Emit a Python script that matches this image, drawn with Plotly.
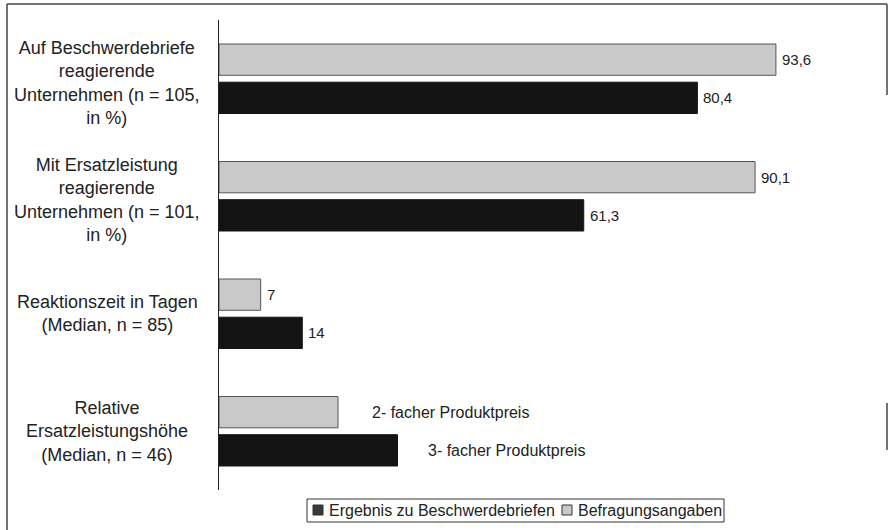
import plotly.graph_objects as go

categories = [
    "Auf Beschwerdebriefe<br>reagierende<br>Unternehmen (n = 105,<br>in %)",
    "Mit Ersatzleistung<br>reagierende<br>Unternehmen (n = 101,<br>in %)",
    "Reaktionszeit in Tagen<br>(Median, n = 85)",
    "Relative<br>Ersatzleistungshöhe<br>(Median, n = 46)",
]
befragung_values = [93.6, 90.1, 7, 20]
befragung_labels = ["93,6", "90,1", "7", "2- facher Produktpreis"]
ergebnis_values = [80.4, 61.3, 14, 30]
ergebnis_labels = ["80,4", "61,3", "14", "3- facher Produktpreis"]
legend_names = ["Ergebnis zu Beschwerdebriefen", "Befragungsangaben"]

FONT = "Liberation Sans, Arial, sans-serif"
GRAY = "#c9c9c9"
BLACK = "#141414"
cat_ids = ["c1", "c2", "c3", "c4"]

fig = go.Figure()
fig.add_trace(go.Bar(
    y=cat_ids, x=befragung_values, orientation="h", name=legend_names[1],
    marker=dict(color=GRAY, line=dict(color="#555555", width=1)),
    showlegend=False,
))
fig.add_trace(go.Bar(
    y=cat_ids, x=ergebnis_values, orientation="h", name=legend_names[0],
    marker=dict(color=BLACK, line=dict(color=BLACK, width=1)),
    showlegend=False,
))

# plot area in pixels: x 219..814, y 20..490
def px(x):
    return (x - 219) / 595

def py(y):
    return (490 - y) / 470

annotations = []
for i, c in enumerate(cat_ids):
    nlines = categories[i].count("<br>") + 1
    annotations.append(dict(
        x=px(107), xref="paper", y=c, yref="y", text=categories[i],
        showarrow=False, xanchor="center", yanchor="middle", align="center",
        yshift=-4 if nlines == 4 else 0,
        font=dict(family=FONT, size=18, color="#222222"),
    ))
    last = i == len(cat_ids) - 1
    annotations.append(dict(
        x=befragung_values[i], y=c, text=befragung_labels[i], showarrow=False,
        xanchor="left", yanchor="middle", xshift=32 if last else 4, yshift=19.1,
        font=dict(family=FONT, size=16 if last else 15, color="#222222"),
    ))
    annotations.append(dict(
        x=ergebnis_values[i], y=c, text=ergebnis_labels[i], showarrow=False,
        xanchor="left", yanchor="middle", xshift=28 if last else 4, yshift=-19.1,
        font=dict(family=FONT, size=16 if last else 15, color="#222222"),
    ))

# legend texts
annotations.append(dict(x=px(327), xref="paper", y=py(510.5), yref="paper", text=legend_names[0],
                        showarrow=False, xanchor="left", yanchor="middle",
                        font=dict(family=FONT, size=16, color="#222222")))
annotations.append(dict(x=px(576), xref="paper", y=py(510.5), yref="paper", text=legend_names[1],
                        showarrow=False, xanchor="left", yanchor="middle",
                        font=dict(family=FONT, size=16, color="#222222")))

line_style = dict(color="#444444", width=1.5)
shapes = [
    # outer frame
    dict(type="line", xref="paper", yref="paper", x0=px(7), x1=px(7), y0=py(530), y1=py(4), line=line_style),
    dict(type="line", xref="paper", yref="paper", x0=px(7), x1=px(887), y0=py(4), y1=py(4), line=line_style),
    dict(type="line", xref="paper", yref="paper", x0=px(887), x1=px(887), y0=py(95), y1=py(4), line=line_style),
    dict(type="line", xref="paper", yref="paper", x0=px(887), x1=px(887), y0=py(450), y1=py(403), line=line_style),
    # legend box and symbols
    dict(type="rect", xref="paper", yref="paper", x0=px(307), x1=px(724), y0=py(522), y1=py(499),
         line=dict(color="#333333", width=1), fillcolor="white", layer="below"),
    dict(type="rect", xref="paper", yref="paper", x0=px(313), x1=px(323), y0=py(515), y1=py(505),
         line=dict(color="#333333", width=1), fillcolor="#3a3a3a"),
    dict(type="rect", xref="paper", yref="paper", x0=px(562), x1=px(572), y0=py(515), y1=py(505),
         line=dict(color="#333333", width=1), fillcolor=GRAY),
]

fig.update_layout(
    width=889, height=530,
    margin=dict(l=219, r=75, t=20, b=40, autoexpand=False),
    paper_bgcolor="white", plot_bgcolor="white",
    barmode="group", bargap=0.35, bargroupgap=0.18,
    showlegend=False,
    xaxis=dict(range=[0, 100], showgrid=False, zeroline=False, showticklabels=False,
               showline=False, ticks=""),
    yaxis=dict(autorange="reversed", showgrid=False, showticklabels=False, ticks="",
               showline=True, linecolor="#222222", linewidth=1),
    annotations=annotations,
    shapes=shapes,
    font=dict(family=FONT),
)

fig.write_html("out.html", config={"displayModeBar": False},
               post_script="document.body.style.margin='0';")
